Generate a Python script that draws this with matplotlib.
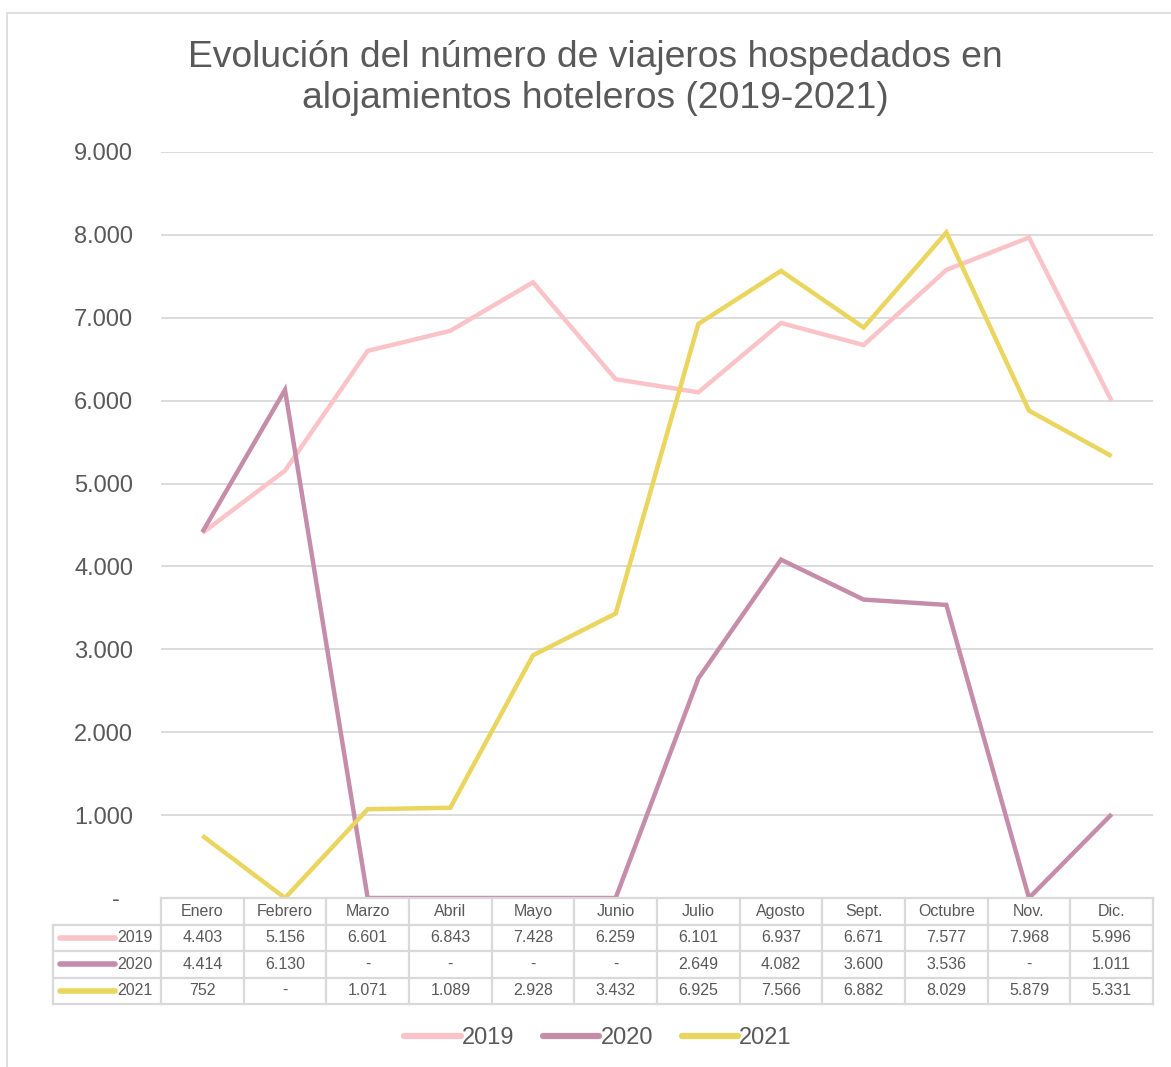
import matplotlib
matplotlib.use("Agg")
import matplotlib.pyplot as plt
from matplotlib.patches import Rectangle
from matplotlib.lines import Line2D

plt.rcParams['font.family'] = ['Liberation Sans', 'DejaVu Sans']

months = ["Enero", "Febrero", "Marzo", "Abril", "Mayo", "Junio", "Julio",
          "Agosto", "Sept.", "Octubre", "Nov.", "Dic."]
years = ["2019", "2020", "2021"]
v2019 = [4403, 5156, 6601, 6843, 7428, 6259, 6101, 6937, 6671, 7577, 7968, 5996]
v2020 = [4414, 6130, 0, 0, 0, 0, 2649, 4082, 3600, 3536, 0, 1011]
v2021 = [752, 0, 1071, 1089, 2928, 3432, 6925, 7566, 6882, 8029, 5879, 5331]
series = [v2019, v2020, v2021]
colors = ["#FAC3C8", "#C58DA9", "#EAD55E"]
yticks = [0, 1000, 2000, 3000, 4000, 5000, 6000, 7000, 8000, 9000]

TXT = "#595959"
GRID = "#D9D9D9"
W, H = 1171, 1067


def fmt(v):
    if v == 0:
        return "-"
    return f"{v:,}".replace(",", ".")


fig = plt.figure(figsize=(W / 100, H / 100), dpi=100)

# outer chart frame
fig.patches.append(Rectangle((7 / W, -0.05), 1.1, (H - 13) / H + 0.05,
                             transform=fig.transFigure, fill=False,
                             edgecolor=GRID, lw=1.2))

fig.text(595 / W, (H - 78) / H,
         "Evolución del número de viajeros hospedados en\nalojamientos hoteleros (2019-2021)",
         ha="center", va="center", fontsize=26.8, color=TXT, linespacing=1.2)

# main plot area
ax = fig.add_axes([161 / W, (H - 898) / H, 992 / W, 746 / H])
x = list(range(len(months)))
for vals, c, lab in zip(series, colors, years):
    ax.plot(x, vals, color=c, lw=3.2, label=lab, solid_capstyle="butt",
            solid_joinstyle="miter")
ax.set_xlim(-0.5, 11.5)
ax.set_ylim(0, 9000)
ax.set_yticks(yticks)
ax.set_yticklabels(["-  "] + [fmt(t) for t in yticks[1:]])
ax.tick_params(axis="y", length=0, pad=20, labelsize=17, labelcolor=TXT)
ax.set_xticks([])
for s in ax.spines.values():
    s.set_visible(False)
ax.grid(axis="y", color=GRID, lw=1.3)
ax.set_axisbelow(True)

# data table
col_w = 992 / 12
xmin = -0.5 - (161 - 53) / col_w
tax = fig.add_axes([53 / W, (H - 1004) / H, (1153 - 53) / W, 106 / H])
tax.set_xlim(xmin, 11.5)
tax.set_ylim(4, 0)
tax.axis("off")
lkw = dict(color=GRID, lw=1.6, clip_on=False)
tax.plot([-0.5, 11.5], [0, 0], **lkw)
for r in range(1, 5):
    tax.plot([xmin, 11.5], [r, r], **lkw)
for i in range(13):
    tax.plot([i - 0.5, i - 0.5], [0, 4], **lkw)
tax.plot([xmin, xmin], [1, 4], **lkw)
for i, m in enumerate(months):
    tax.text(i, 0.5, m, ha="center", va="center", fontsize=11.5, color=TXT)
for r, (vals, c, lab) in enumerate(zip(series, colors, years), start=1):
    for i, v in enumerate(vals):
        tax.text(i, r + 0.5, fmt(v), ha="center", va="center",
                 fontsize=11.5, color=TXT)
    lx0 = xmin + 7 / col_w
    tax.add_line(Line2D([lx0, lx0 + 55 / col_w], [r + 0.5, r + 0.5],
                        color=c, lw=4, solid_capstyle="round"))
    tax.text(-0.5 - 8 / col_w, r + 0.5, lab, ha="right", va="center",
             fontsize=11.5, color=TXT)

# legend
handles = [Line2D([], [], color=c, lw=4.5, solid_capstyle="round") for c in colors]
leg = fig.legend(handles, years, loc="center", bbox_to_anchor=(598 / W, (H - 1038) / H),
                 ncol=3, frameon=False, fontsize=17, handlelength=2.4,
                 handletextpad=0.05, columnspacing=1.2)
for t in leg.get_texts():
    t.set_color(TXT)

fig.savefig("out.png", dpi=100)
